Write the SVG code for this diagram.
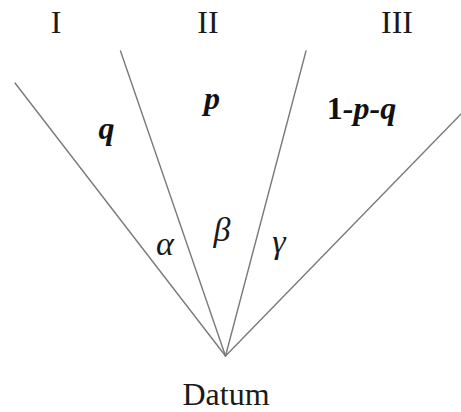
<svg xmlns="http://www.w3.org/2000/svg" width="461" height="412" viewBox="0 0 461 412">
<style>
.ln{stroke:#7a7a7a;stroke-width:1.4;fill:none;stroke-linecap:round}
.rm{font-family:"Liberation Serif","Times New Roman",serif;font-size:32px;fill:#1a1a1a;text-anchor:middle}
.bi{font-family:"Liberation Serif","Times New Roman",serif;font-size:32px;font-weight:bold;font-style:italic;fill:#111;text-anchor:middle}
.up{font-style:normal}
.gk{font-family:"Liberation Serif","Times New Roman",serif;font-size:34px;font-style:italic;fill:#1a1a1a;text-anchor:middle}
</style>
<rect width="461" height="412" fill="#fff"/>
<g id="connectors">
<line class="ln" x1="225.5" y1="356" x2="15" y2="83"/>
<line class="ln" x1="225.5" y1="356" x2="120.5" y2="51"/>
<line class="ln" x1="225.5" y1="356" x2="306" y2="51"/>
<line class="ln" x1="225.5" y1="356" x2="461" y2="114"/>
</g>
<g id="region-I"><text class="rm" x="56" y="33">I</text></g>
<g id="region-II"><text class="rm" x="208" y="33">II</text></g>
<g id="region-III"><text class="rm" x="397" y="33">III</text></g>
<g id="prob-q"><text class="bi" x="106.5" y="139">q</text></g>
<g id="prob-p"><text class="bi" x="212" y="109">p</text></g>
<g id="prob-rest"><text class="bi" x="361.5" y="119"><tspan class="up">1</tspan>-p-q</text></g>
<g id="angle-alpha"><text class="gk" x="165" y="255">α</text></g>
<g id="angle-beta"><text class="gk" x="222" y="241">β</text></g>
<g id="angle-gamma"><text class="gk" x="279" y="253">γ</text></g>
<g id="datum"><text class="rm" x="226" y="405">Datum</text></g>
</svg>
